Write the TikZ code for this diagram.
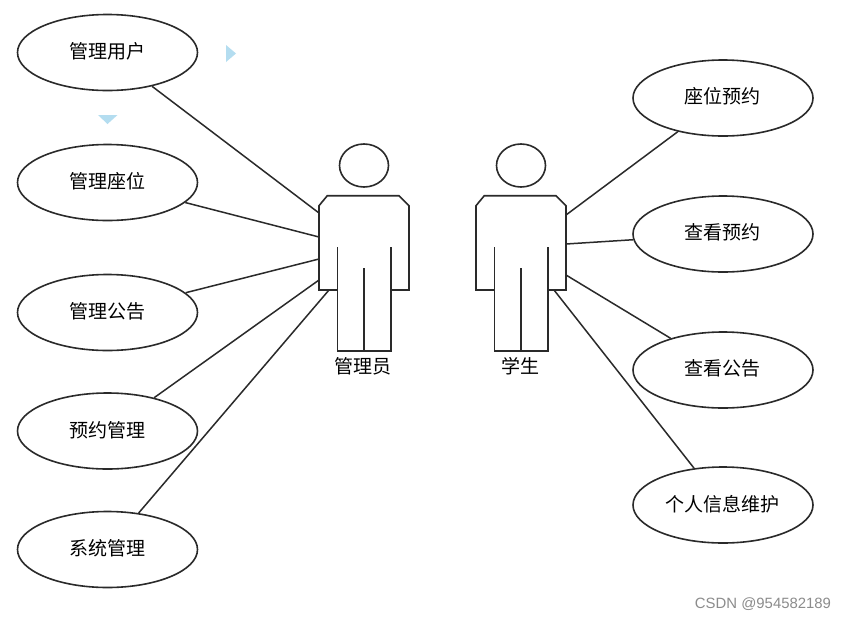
\documentclass[tikz,border=0pt]{standalone}
\usepackage{fontspec}
\newfontfamily\cjk{Noto Sans CJK SC}
\newfontfamily\wm{Liberation Sans}
\usetikzlibrary{shapes.geometric}
\definecolor{ink}{HTML}{2A2A2A}
\definecolor{tri}{HTML}{B4DDF0}
\tikzset{
  usecase/.style={draw=ink,line width=1.6pt,ellipse,minimum width=180pt,minimum height=76pt,inner sep=0pt,anchor=center},
  head/.style={draw=ink,line width=1.6pt,ellipse,minimum width=49pt,minimum height=43pt,inner sep=0pt},
  txt/.style={font=\cjk\fontsize{19}{22}\selectfont,text=black,inner sep=0pt,anchor=center},
  link/.style={draw=ink,line width=1.5pt},
  figure/.style={draw=ink,line width=1.6pt,line join=miter},
  marker/.style={fill=tri,draw=none},
}
\newcommand{\actorbody}[1]{%
  \begin{scope}[shift={(#1,0)}]
    \draw[figure] (337.3,290) -- (319,290) -- (319,205.7) -- (327.3,195.7) -- (399,195.7) -- (409,205.7) -- (409,290) -- (390.7,290);
    \draw[figure] (337.3,247.3) -- (337.3,351) -- (390.7,351) -- (390.7,247.3);
    \draw[figure] (364,268.3) -- (364,351);
  \end{scope}}
\begin{document}
\begin{tikzpicture}[x=1pt,y=-1pt]
\useasboundingbox (0,0) rectangle (846,619);
\fill[white] (0,0) rectangle (846,619);

% actors
\actorbody{0}
\actorbody{157}
\node[head] (h1) at (364,165.5) {};
\node[head] (h2) at (521,165.5) {};
\node[txt] (l1) at (363,366) {管理员};
\node[txt] (l2) at (520,366) {学生};

% attachment points
\coordinate (a1) at (319,213);
\coordinate (a2) at (319,237);
\coordinate (a3) at (319,259);
\coordinate (a4) at (319,280);
\coordinate (a5) at (329,290);
\coordinate (s1) at (566,215);
\coordinate (s2) at (566,244);
\coordinate (s3) at (566,275);
\coordinate (s4) at (554,290);

% use cases
\node[usecase] (u1) at (107.5,52.5) {};
\node[usecase] (u2) at (107.5,182.5) {};
\node[usecase] (u3) at (107.5,312.5) {};
\node[usecase] (u4) at (107.5,431) {};
\node[usecase] (u5) at (107.5,549.5) {};
\node[usecase] (r1) at (723,98) {};
\node[usecase] (r2) at (723,234) {};
\node[usecase] (r3) at (723,370) {};
\node[usecase] (r4) at (723,505) {};

\node[txt] at (107,51.5) {管理用户};
\node[txt] at (107,181) {管理座位};
\node[txt] at (107,311) {管理公告};
\node[txt] at (107,430) {预约管理};
\node[txt] at (107,548) {系统管理};
\node[txt] at (722,96) {座位预约};
\node[txt] at (722,232) {查看预约};
\node[txt] at (722,368) {查看公告};
\node[txt] at (722,504) {个人信息维护};

% connectors
\draw[link] (u1) -- (a1);
\draw[link] (u2) -- (a2);
\draw[link] (u3) -- (a3);
\draw[link] (u4) -- (a4);
\draw[link] (u5) -- (a5);
\draw[link] (r1) -- (s1);
\draw[link] (r2) -- (s2);
\draw[link] (r3) -- (s3);
\draw[link] (r4) -- (s4);

% small markers
\fill[marker] (226,45) -- (236,53.5) -- (226,62) -- cycle;
\fill[marker] (98,115) -- (117.5,115) -- (107.5,124) -- cycle;

% watermark
\node[font=\wm\fontsize{14.9}{17}\selectfont,text=black!45,inner sep=0pt,anchor=center] (w) at (763,604) {CSDN @954582189};
\end{tikzpicture}
\end{document}
